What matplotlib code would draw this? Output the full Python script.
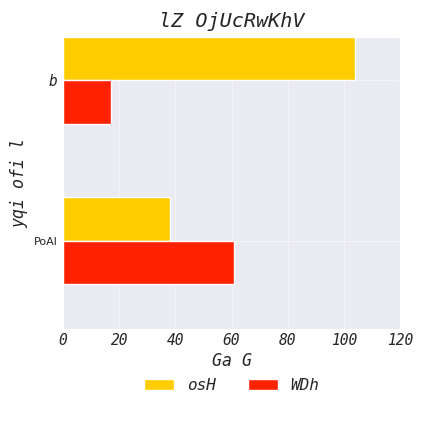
import matplotlib
matplotlib.use("Agg")
import matplotlib.pyplot as plt
import numpy as np
import seaborn as sns

sns.set_style("darkgrid")

categories = ["PoAl", "b"]
series_names = ["osH", "WDh"]
osH_values = [38, 104]
WDh_values = [61, 17]
colors = ["#FFCC00", "#FF2200"]
x_ticks = [0, 20, 40, 60, 80, 100, 120]

mono = "DejaVu Sans Mono"
txt = "#262626"

fig, ax = plt.subplots(figsize=(4.26, 4.26), dpi=100)
fig.subplots_adjust(left=0.148, right=0.939, top=0.913, bottom=0.228)

y = np.arange(len(categories))
h = 0.27
ax.barh(y + h / 2, osH_values, height=h, color=colors[0], label=series_names[0], zorder=3)
ax.barh(y - h / 2, WDh_values, height=h, color=colors[1], label=series_names[1], zorder=3)

ax.grid(True, color="white", alpha=0.45, linewidth=1.0)
ax.set_xlim(0, 120)
ax.set_ylim(-0.55, 1.27)
ax.set_xticks(x_ticks)
ax.set_xticklabels([str(t) for t in x_ticks], fontfamily=mono, fontstyle="italic", fontsize=10.5, color=txt)
ax.set_yticks(y)
ax.set_yticklabels(categories)
labs = ax.get_yticklabels()
labs[0].set_fontfamily("DejaVu Sans")
labs[0].set_fontsize(8)
labs[0].set_color(txt)
labs[1].set_fontfamily(mono)
labs[1].set_fontstyle("italic")
labs[1].set_fontsize(10.5)
labs[1].set_color(txt)
ax.tick_params(axis="x", length=0, pad=3)
ax.tick_params(axis="y", length=0, pad=4)

ax.set_title("lZ OjUcRwKhV", fontfamily=mono, fontstyle="italic", fontsize=14.5, color=txt, pad=7)
ax.set_xlabel("Ga G", fontfamily=mono, fontstyle="italic", fontsize=12, color=txt, labelpad=3)
ax.set_ylabel("yqi ofi l", fontfamily=mono, fontstyle="italic", fontsize=12, color=txt, labelpad=4)

leg = ax.legend(loc="upper center", bbox_to_anchor=(0.5, -0.12), ncol=2, frameon=False,
                prop={"family": mono, "style": "italic", "size": 11.5}, handlelength=1.9,
                columnspacing=2.0)
for t in leg.get_texts():
    t.set_color(txt)

fig.savefig("out.png", dpi=100)
